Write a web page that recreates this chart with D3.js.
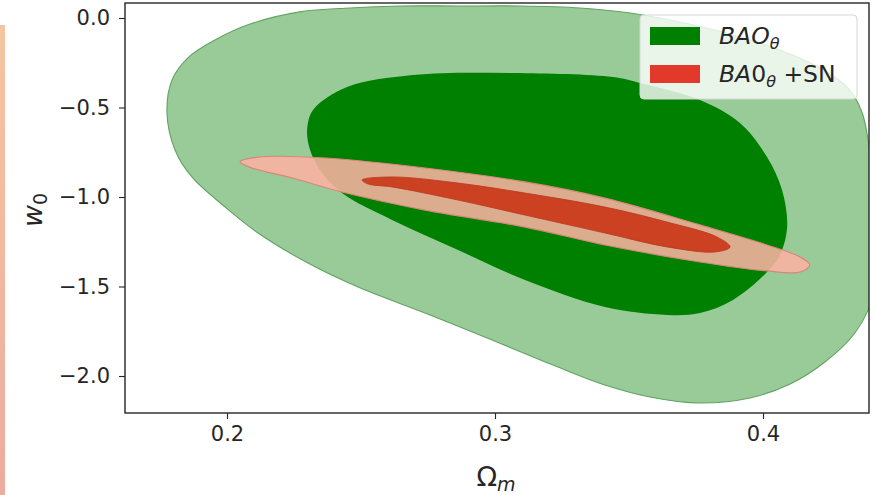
<!DOCTYPE html>
<html>
<head>
<meta charset="utf-8">
<script src="https://cdn.jsdelivr.net/npm/d3@7"></script>
<style>
  html, body { margin: 0; padding: 0; background: #ffffff; }
  svg { display: block; }
  text { font-family: "DejaVu Sans", sans-serif; fill: #262626; }
</style>
</head>
<body>
<svg id="chart" width="882" height="495"></svg>
<script>
// Confidence contours in the (Omega_m, w0) plane, as [Omega_m, w0] outline points.
const baoOuter = [
  [0.1776, -0.531], [0.1795, -0.346], [0.1854, -0.223], [0.1955, -0.123],
  [0.2086, -0.034], [0.2272, 0.034], [0.2459, 0.056], [0.2646, 0.067],
  [0.2869, 0.067], [0.3093, 0.067], [0.3317, 0.056], [0.3504, 0.028],
  [0.3690, -0.022], [0.3877, -0.089], [0.4063, -0.179], [0.4213, -0.279],
  [0.4317, -0.391], [0.4369, -0.525], [0.4399, -0.737], [0.4437, -1.017],
  [0.4444, -1.296], [0.4414, -1.547], [0.4343, -1.760], [0.4231, -1.922],
  [0.4101, -2.045], [0.3951, -2.123], [0.3765, -2.151], [0.3578, -2.117],
  [0.3410, -2.050], [0.3235, -1.950], [0.2989, -1.799], [0.2739, -1.648],
  [0.2489, -1.503], [0.2302, -1.369], [0.2116, -1.201], [0.1993, -1.056],
  [0.1869, -0.888], [0.1806, -0.737]
];
const baoInner = [
  [0.2299, -0.626], [0.2321, -0.514], [0.2448, -0.385], [0.2694, -0.318],
  [0.3067, -0.307], [0.3440, -0.330], [0.3541, -0.363], [0.3765, -0.458],
  [0.3914, -0.587], [0.4015, -0.777], [0.4071, -0.961], [0.4090, -1.168],
  [0.4063, -1.324], [0.4015, -1.419], [0.3888, -1.575], [0.3765, -1.648],
  [0.3642, -1.659], [0.3410, -1.615], [0.3112, -1.464], [0.2862, -1.296],
  [0.2616, -1.128], [0.2429, -0.978], [0.2347, -0.849], [0.2310, -0.737]
];
const snOuter = [
  [0.2049, -0.804], [0.2116, -0.777], [0.2366, -0.782], [0.2739, -0.838],
  [0.3112, -0.916], [0.3410, -1.006], [0.3765, -1.156], [0.4015, -1.268],
  [0.4138, -1.335], [0.4175, -1.380], [0.4138, -1.419], [0.4015, -1.413],
  [0.3765, -1.363], [0.3410, -1.268], [0.3112, -1.168], [0.2739, -1.073],
  [0.2429, -0.972], [0.2243, -0.894], [0.2093, -0.838]
];
const snInner = [
  [0.2504, -0.905], [0.2616, -0.888], [0.2862, -0.922], [0.3112, -0.978],
  [0.3410, -1.056], [0.3642, -1.140], [0.3828, -1.223], [0.3877, -1.279],
  [0.3821, -1.307], [0.3642, -1.279], [0.3410, -1.201], [0.3112, -1.101],
  [0.2862, -1.017], [0.2616, -0.944], [0.2526, -0.927]
];

const xTicks = [0.2, 0.3, 0.4];
const yTicks = [0.0, -0.5, -1.0, -1.5, -2.0];
const xDomain = [0.16194, 0.43955];
const yDomain = [-2.2067, 0.0838];

const svg = d3.select("#chart");
const plot = { left: 125, top: 3, right: 869, bottom: 413 };

// decorative side strip
const defs = svg.append("defs");
const grad = defs.append("linearGradient").attr("id", "strip")
  .attr("x1", 0).attr("y1", 0).attr("x2", 0).attr("y2", 1);
grad.append("stop").attr("offset", "0%").attr("stop-color", "#f5c5a1");
grad.append("stop").attr("offset", "100%").attr("stop-color", "#eeab9f");
svg.append("rect").attr("x", 0).attr("y", 25).attr("width", 5).attr("height", 470)
  .attr("fill", "url(#strip)");

defs.append("clipPath").attr("id", "plotClip").append("rect")
  .attr("x", plot.left).attr("y", plot.top)
  .attr("width", plot.right - plot.left).attr("height", plot.bottom - plot.top);

const x = d3.scaleLinear().domain(xDomain).range([plot.left, plot.right]);
const y = d3.scaleLinear().domain(yDomain).range([plot.bottom, plot.top]);

const outline = d3.line()
  .x(d => x(d[0])).y(d => y(d[1]))
  .curve(d3.curveCatmullRomClosed.alpha(0.5));

const g = svg.append("g").attr("clip-path", "url(#plotClip)");
g.append("path").attr("d", outline(baoOuter))
  .attr("fill", "#98cb98").attr("stroke", "#62a262").attr("stroke-width", 1.1);
g.append("path").attr("d", outline(baoInner))
  .attr("fill", "#008000");
g.append("path").attr("d", outline(snOuter))
  .attr("fill", "rgb(251,178,162)").attr("fill-opacity", 0.88)
  .attr("stroke", "#d9867a").attr("stroke-width", 1.2);
g.append("path").attr("d", outline(snInner))
  .attr("fill", "#cd4123").attr("stroke", "#b8391f").attr("stroke-width", 0.8);

// axes
const xAxis = d3.axisBottom(x).tickValues(xTicks).tickFormat(d3.format(".1f"))
  .tickSizeInner(6).tickSizeOuter(0).tickPadding(7);
const yAxis = d3.axisLeft(y).tickValues(yTicks).tickFormat(d3.format(".1f"))
  .tickSizeInner(6).tickSizeOuter(0).tickPadding(9);

const gx = svg.append("g").attr("transform", `translate(0,${plot.bottom})`).call(xAxis);
const gy = svg.append("g").attr("transform", `translate(${plot.left},0)`).call(yAxis);
[gx, gy].forEach(a => {
  a.select(".domain").remove();
  a.selectAll(".tick line").attr("stroke", "#262626").attr("stroke-width", 1.1);
  a.selectAll(".tick text").attr("font-size", 21).attr("fill", "#262626")
    .attr("font-family", "DejaVu Sans");
});

// frame
svg.append("rect").attr("x", plot.left).attr("y", plot.top)
  .attr("width", plot.right - plot.left).attr("height", plot.bottom - plot.top)
  .attr("fill", "none").attr("stroke", "#262626").attr("stroke-width", 1.4);

// axis labels
const xl = svg.append("text").attr("x", 496).attr("y", 486)
  .attr("text-anchor", "middle").attr("font-size", 27);
xl.append("tspan").text("Ω");
xl.append("tspan").attr("font-style", "italic").attr("font-size", 19).attr("dy", 5).text("m");

const yl = svg.append("text")
  .attr("transform", "translate(42,210) rotate(-90)")
  .attr("text-anchor", "middle").attr("font-size", 27);
yl.append("tspan").attr("font-style", "italic").text("w");
yl.append("tspan").attr("font-size", 19).attr("dy", 5).text("0");

// legend
const lg = svg.append("g");
lg.append("rect").attr("x", 640).attr("y", 15).attr("width", 217).attr("height", 84)
  .attr("rx", 4).attr("fill", "#ffffff").attr("fill-opacity", 0.8)
  .attr("stroke", "#d6d6d6").attr("stroke-width", 1);
const legendItems = [
  { color: "#008000", y: 27 },
  { color: "#e2392b", y: 65 }
];
legendItems.forEach(it => {
  lg.append("rect").attr("x", 650).attr("y", it.y).attr("width", 50).attr("height", 18)
    .attr("fill", it.color);
});
const t1 = lg.append("text").attr("x", 719).attr("y", 44).attr("font-size", 23.5);
t1.append("tspan").attr("font-style", "italic").text("BAO");
t1.append("tspan").attr("font-style", "italic").attr("font-size", 16).attr("dy", 5).text("θ");

const t2 = lg.append("text").attr("x", 719).attr("y", 82).attr("font-size", 23.5);
t2.append("tspan").attr("font-style", "italic").text("BA");
t2.append("tspan").text("0");
t2.append("tspan").attr("font-style", "italic").attr("font-size", 16).attr("dy", 5).text("θ");
t2.append("tspan").attr("dy", -5).text(" +SN");
</script>
</body>
</html>
